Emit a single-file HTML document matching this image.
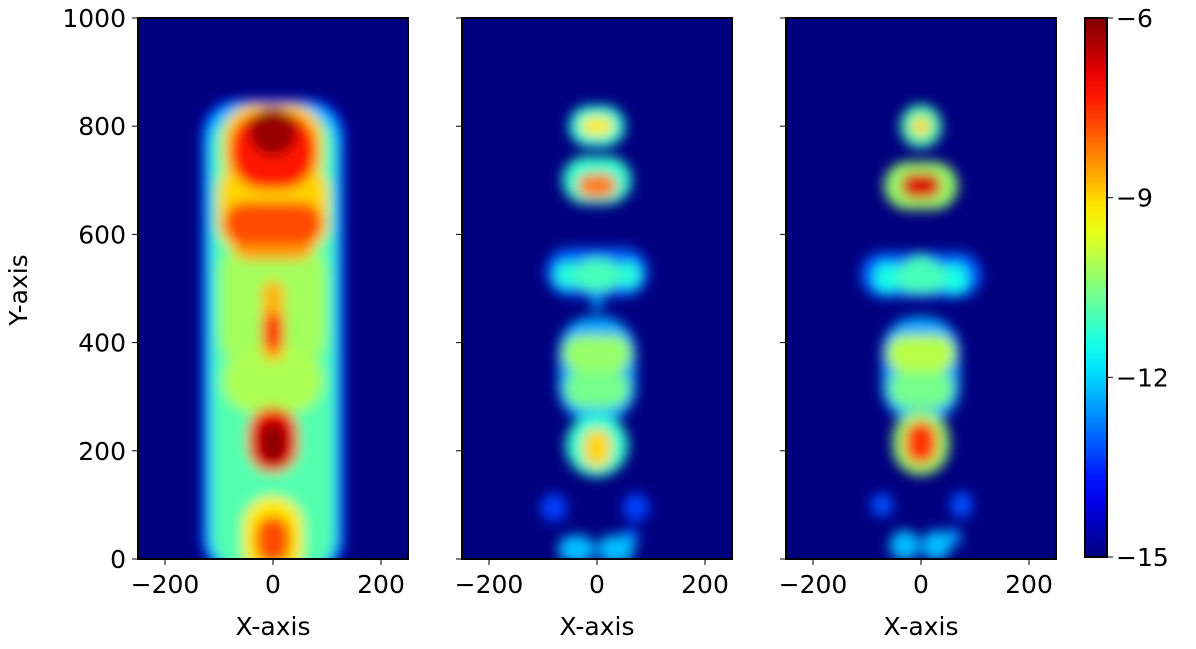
<!DOCTYPE html>
<html><head><meta charset="utf-8">
<style>
body{margin:0;background:#fff;}
svg{display:block;font-family:"DejaVu Sans","Liberation Sans",sans-serif;}
</style></head>
<body>
<svg id="chart" width="1196" height="649">
<defs>
<filter id="blur" x="-50%" y="-50%" width="200%" height="200%"><feGaussianBlur stdDeviation="6"/></filter>
<linearGradient id="cbgrad" x1="0" y1="1" x2="0" y2="0"></linearGradient>
</defs>
</svg>
<script>
// data: blobs as [x, y, halfWidth, halfHeight, value] in data units
const panel1 = [
 [0,410,132,440,-13.8],[0,408,124,434,-12.2],[0,400,112,425,-10.9],
 [0,470,98,120,-10.2],[0,330,92,60,-10.1],[0,110,105,80,-11.4],
 [0,650,102,90,-9],[0,620,92,40,-7.8],[0,575,72,22,-8.5],
 [0,760,92,82,-9],[0,755,80,72,-7.3],[0,790,45,45,-6.2],
 [0,440,20,75,-8.7],[0,420,20,35,-7.6],
 [0,220,46,60,-7],[0,215,25,38,-6.1],
 [0,40,55,75,-9.2],[0,35,32,45,-7.8]
];
const panel2 = [
 [0,800,52,38,-11.3],[0,800,30,18,-9.2],
 [0,700,64,44,-11.2],[0,690,36,22,-8.2],
 [0,530,95,45,-13],[-55,525,22,24,-11.3],[58,525,22,24,-11.3],[0,525,42,30,-11],[0,475,12,15,-12.5],
 [0,350,72,98,-12.4],[0,380,64,34,-10.3],[0,315,60,36,-10.6],
 [0,210,58,58,-11.2],[0,205,26,36,-9],
 [-80,95,24,26,-13.3],[72,95,24,26,-13.3],
 [-38,18,34,26,-12.2],[35,18,34,26,-12.2],[62,40,16,16,-13]
];
const panel3 = [
 [0,800,38,40,-11],[0,800,18,18,-9],
 [0,690,68,44,-10.3],[0,690,38,24,-6.8],
 [0,525,112,42,-13],[-62,520,24,27,-11.4],[62,518,24,27,-11.4],[0,522,46,30,-11],[0,548,15,15,-11],
 [0,350,72,98,-12.4],[0,380,64,34,-10],[0,315,60,36,-10.6],
 [0,215,52,60,-10.3],[0,215,30,40,-7.6],
 [-72,100,20,22,-13.2],[75,100,20,24,-13.2],
 [-30,25,28,28,-12.2],[28,25,26,28,-12.2],[58,40,16,17,-12.6]
];
const xTicks = [-200,0,200];
const yTicks = [0,200,400,600,800,1000];
const cbTicks = [-6,-9,-12,-15];

const NS="http://www.w3.org/2000/svg";
const svg=document.getElementById('chart');
const defs=svg.querySelector('defs');
function jet(v){
 let t=(v+15)/9; t=Math.max(0,Math.min(1,t));
 const c=x=>Math.round(255*Math.max(0,Math.min(1,x)));
 const r=c(Math.min(4*t-1.5,-4*t+4.5)), g=c(Math.min(4*t-0.5,-4*t+3.5)), b=c(Math.min(4*t+0.5,-4*t+2.5));
 return `rgb(${r},${g},${b})`;
}
function mk(tag,attrs,parent){const e=document.createElementNS(NS,tag);for(const k in attrs)e.setAttribute(k,attrs[k]);(parent||svg).appendChild(e);return e;}
const plotTop=18,plotBot=559;
const ys=v=>plotBot-(v/1000)*(plotBot-plotTop);
const panels=[[138,panel1],[462,panel2],[786,panel3]];
panels.forEach(([left,blobs],i)=>{
 const W=270;
 const xs=v=>left+(v+250)/500*W;
 const cp=mk('clipPath',{id:'cp'+i},defs); mk('rect',{x:left,y:plotTop,width:W,height:plotBot-plotTop},cp);
 const g=mk('g',{'clip-path':`url(#cp${i})`});
 
 
 mk('rect',{x:left,y:plotTop,width:W,height:plotBot-plotTop,fill:'#00007f'},g);
 const bg=mk('g',{filter:'url(#blur)'},g);
 blobs.slice().sort((a,b)=>a[4]-b[4]).forEach(b=>{
  const w=b[2]/500*W, h=b[3]/1000*(plotBot-plotTop);
  const r=mk('rect',{x:xs(b[0])-w,y:ys(b[1])-h,width:2*w,height:2*h,rx:Math.min(w,h,35),fill:jet(b[4])},bg);
  
  
 });
 mk('rect',{x:left,y:plotTop,width:W,height:plotBot-plotTop,fill:'none',stroke:'#000','stroke-width':2});
 xTicks.forEach(t=>{
  mk('line',{x1:xs(t),x2:xs(t),y1:plotBot,y2:plotBot+6,stroke:'#000','stroke-width':1});
  const tx=mk('text',{x:xs(t),y:plotBot+34,'font-size':25,'text-anchor':'middle'});
  tx.textContent=(t<0?'\u2212'+(-t):t);
  
  
 });
 yTicks.forEach(t=>{
  mk('line',{x1:left-6,x2:left,y1:ys(t),y2:ys(t),stroke:'#000','stroke-width':1});
  if(i===0){
   const tx=mk('text',{x:left-12,y:ys(t)+9,'font-size':25,'text-anchor':'end'});
   tx.textContent=t;
   
   
  }
 });
 const xl=mk('text',{x:xs(0),y:plotBot+76,'font-size':25,'text-anchor':'middle'});
 xl.textContent='X-axis';
 
 
});
const yl=mk('text',{x:0,y:0,'font-size':25,'text-anchor':'middle',transform:'translate(27,290) rotate(-90)'});
yl.textContent='Y-axis';


// colorbar
const grad=defs.querySelector('#cbgrad');
for(let k=0;k<=20;k++){mk('stop',{offset:k/20,'stop-color':jet(-15+9*k/20)},grad);}
const cb=mk('rect',{x:1085,y:18,width:22,height:539,fill:'url(#cbgrad)',stroke:'#000','stroke-width':2});


const cy=v=>557-(v+15)/9*539;
cbTicks.forEach(t=>{
 mk('line',{x1:1107,x2:1113,y1:cy(t),y2:cy(t),stroke:'#000','stroke-width':1});
 const tx=mk('text',{x:1116,y:cy(t)+9,'font-size':25});
 tx.textContent='\u2212'+(-t);
 
 
});
</script>
</body></html>
